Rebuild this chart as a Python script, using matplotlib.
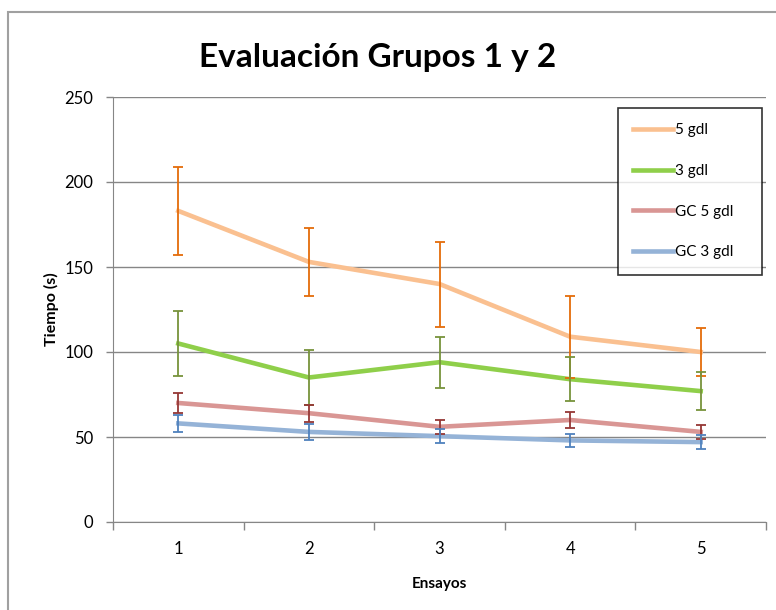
import matplotlib.pyplot as plt
from matplotlib.patches import Rectangle

plt.rcParams["font.family"] = ["Lato", "DejaVu Sans"]

ensayos = [1, 2, 3, 4, 5]
series = ["5 gdl", "3 gdl", "GC 5 gdl", "GC 3 gdl"]
tiempo_5 = [183, 153, 140, 109, 100]
tiempo_3 = [105, 85, 94, 84, 77]
tiempo_gc5 = [70, 64, 56, 60, 53]
tiempo_gc3 = [58, 53, 50.5, 48, 47]
err_5 = [26, 20, 25, 24, 14]
err_3 = [19, 16, 15, 13, 11]
err_gc5 = [6, 5, 4, 4.5, 4]
err_gc3 = [5, 4.5, 4, 4, 4]

line_colors = ["#FAC090", "#8FCF4A", "#D99694", "#95B3D7"]
err_colors = ["#E46C0A", "#77933C", "#953735", "#4F81BD"]

fig = plt.figure(figsize=(7.76, 6.10), dpi=100)
ax = fig.add_axes([113 / 776, 1 - 522 / 610, (766 - 113) / 776, (522 - 97) / 610])

for name, vals, errs, lc, ec in zip(
    series,
    [tiempo_5, tiempo_3, tiempo_gc5, tiempo_gc3],
    [err_5, err_3, err_gc5, err_gc3],
    line_colors,
    err_colors,
):
    ax.plot(ensayos, vals, color=lc, lw=3.3, label=name, zorder=3)
    ax.errorbar(ensayos, vals, yerr=errs, fmt="none", ecolor=ec, elinewidth=1.3,
                capsize=3.5, capthick=1.3, zorder=4)

ax.set_xlim(0.5, 5.5)
ax.set_ylim(0, 250)
ax.set_yticks([0, 50, 100, 150, 200, 250])
ax.set_xticks(ensayos)
ax.set_xticks([0.5, 1.5, 2.5, 3.5, 4.5, 5.5], minor=True)
ax.tick_params(axis="x", which="major", length=0, labelsize=12, pad=14)
ax.tick_params(axis="x", which="minor", length=6, color="#868686", width=1)
ax.tick_params(axis="y", length=5, color="#868686", width=1, labelsize=12, pad=9)
ax.yaxis.grid(True, color="#868686", lw=1)
ax.set_axisbelow(True)
for s in ["top", "right"]:
    ax.spines[s].set_visible(False)
for s in ["left", "bottom"]:
    ax.spines[s].set_color("#868686")

ax.set_xlabel("Ensayos", fontsize=11, fontweight="bold", labelpad=14)
ax.set_ylabel("Tiempo (s)", fontsize=11.5, fontweight="bold", labelpad=4)
fig.text(378 / 776, 1 - 57 / 610, "Evaluación Grupos 1 y 2", fontsize=24,
         fontweight="bold", ha="center", va="center")

leg = ax.legend(loc="upper left",
                bbox_to_anchor=(618 / 776, 1 - 280 / 610, 144 / 776, 172 / 610),
                bbox_transform=fig.transFigure, mode="expand", frameon=True,
                fancybox=False, edgecolor="black", fontsize=11, labelspacing=1.75,
                handlelength=2.6, handletextpad=0.1, borderpad=1.0, borderaxespad=0)
leg.get_frame().set_linewidth(1.2)

fig.patches.append(Rectangle((8 / 776, -0.1), 1.1, 1 - 12 / 610 + 0.1,
                             transform=fig.transFigure, fill=False,
                             edgecolor="#a0a0a0", lw=1.5))

fig.savefig("out.png", dpi=100)
